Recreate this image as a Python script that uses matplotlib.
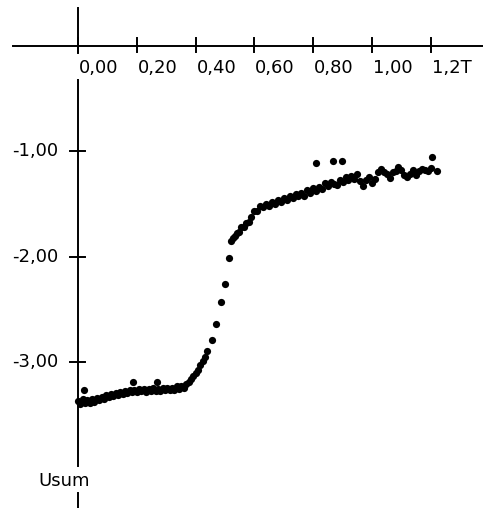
import matplotlib
matplotlib.use("Agg")
import matplotlib.pyplot as plt

# Measured values (time in T, Usum)
t_flat = [0.000, 0.008, 0.016, 0.024, 0.032, 0.040, 0.048, 0.056, 0.064, 0.072,
          0.080, 0.088, 0.096, 0.104, 0.112, 0.120, 0.128, 0.136, 0.144, 0.152,
          0.160, 0.168, 0.176, 0.184, 0.192, 0.200, 0.208, 0.216, 0.224, 0.232,
          0.240, 0.248, 0.256, 0.264, 0.272, 0.280, 0.288, 0.296, 0.304, 0.312,
          0.320, 0.328, 0.336, 0.344, 0.352, 0.360]
u_flat = [-3.37, -3.40, -3.35, -3.39, -3.36, -3.39, -3.35, -3.38, -3.34, -3.36,
          -3.33, -3.35, -3.31, -3.33, -3.30, -3.32, -3.29, -3.31, -3.28, -3.30,
          -3.27, -3.29, -3.26, -3.28, -3.26, -3.28, -3.25, -3.27, -3.25, -3.28,
          -3.25, -3.27, -3.24, -3.27, -3.25, -3.27, -3.24, -3.26, -3.24, -3.26,
          -3.24, -3.26, -3.23, -3.25, -3.23, -3.24]

t_rise = [0.368, 0.376, 0.384, 0.392, 0.400, 0.408, 0.416, 0.424, 0.432, 0.440,
          0.455, 0.470, 0.485, 0.500, 0.512, 0.522, 0.528, 0.534, 0.540, 0.548,
          0.556, 0.564, 0.572, 0.580]
u_rise = [-3.21, -3.19, -3.16, -3.13, -3.10, -3.07, -3.03, -2.99, -2.95, -2.89,
          -2.79, -2.64, -2.43, -2.26, -2.01, -1.85, -1.82, -1.80, -1.77, -1.76,
          -1.72, -1.72, -1.68, -1.67]

t_late = [0.59, 0.60, 0.61, 0.62, 0.63, 0.64, 0.65, 0.66, 0.67, 0.68,
          0.69, 0.70, 0.71, 0.72, 0.73, 0.74, 0.75, 0.76, 0.77, 0.78,
          0.79, 0.80, 0.81, 0.82, 0.83, 0.84, 0.85, 0.86, 0.87, 0.88,
          0.89, 0.90, 0.91, 0.92, 0.93, 0.94, 0.95, 0.96, 0.97, 0.98,
          0.99, 1.00, 1.01, 1.02, 1.03, 1.04, 1.05, 1.06, 1.07, 1.08,
          1.09, 1.10, 1.11, 1.12, 1.13, 1.14, 1.15, 1.16, 1.17, 1.18,
          1.19, 1.20, 1.22]
u_late = [-1.62, -1.57, -1.57, -1.52, -1.53, -1.50, -1.52, -1.48, -1.50, -1.46,
          -1.48, -1.44, -1.46, -1.42, -1.44, -1.40, -1.42, -1.39, -1.42, -1.37,
          -1.39, -1.35, -1.38, -1.34, -1.36, -1.30, -1.33, -1.29, -1.31, -1.32,
          -1.27, -1.29, -1.24, -1.27, -1.23, -1.26, -1.21, -1.28, -1.33, -1.27,
          -1.24, -1.30, -1.26, -1.20, -1.17, -1.20, -1.21, -1.25, -1.20, -1.19,
          -1.15, -1.18, -1.22, -1.24, -1.21, -1.18, -1.22, -1.19, -1.17, -1.18,
          -1.19, -1.16, -1.19]

# stray points
t_out = [0.020, 0.187, 0.269, 0.810, 0.867, 0.898, 1.204]
u_out = [-3.26, -3.19, -3.19, -1.11, -1.09, -1.09, -1.05]

x_ticks = [0.0, 0.2, 0.4, 0.6, 0.8, 1.0, 1.2]
x_labels = ["0,00", "0,20", "0,40", "0,60", "0,80", "1,00", "1,2T"]
y_ticks = [-1.0, -2.0, -3.0]
y_labels = ["-1,00", "-2,00", "-3,00"]

fig = plt.figure(figsize=(4.83, 5.08), dpi=100)
ax = fig.add_axes([0, 0, 1, 1])
ax.set_xlim(-0.2653, 1.3776)
ax.set_ylim(-4.383, 0.4364)
ax.axis("off")

# axes drawn through the origin, broken where labels sit
lw = 1.4
ax.plot([-0.221, 1.3776], [0, 0], color="black", lw=lw)
ax.plot([0, 0], [0.36, -0.066], color="black", lw=lw)
ax.plot([0, 0], [-0.323, -3.985], color="black", lw=lw)
ax.plot([0, 0], [-4.241, -4.383], color="black", lw=lw)

for xt, lab in zip(x_ticks, x_labels):
    ax.plot([xt, xt], [0.076, -0.057], color="black", lw=lw)
    ax.text(xt + 0.003, -0.209, lab, ha="left", va="center", fontsize=13)

for yt, lab in zip(y_ticks, y_labels):
    ax.plot([-0.027, 0.024], [yt, yt], color="black", lw=lw)
    ax.text(-0.066, yt, lab, ha="right", va="center", fontsize=13)

ax.text(-0.136, -4.127, "Usum", ha="left", va="center", fontsize=13)

t_all = t_flat + t_rise + t_late + t_out
u_all = u_flat + u_rise + u_late + u_out
ax.plot(t_all, u_all, "o", color="black", markersize=5.2, markeredgewidth=0)

fig.savefig("out.png", dpi=100)
